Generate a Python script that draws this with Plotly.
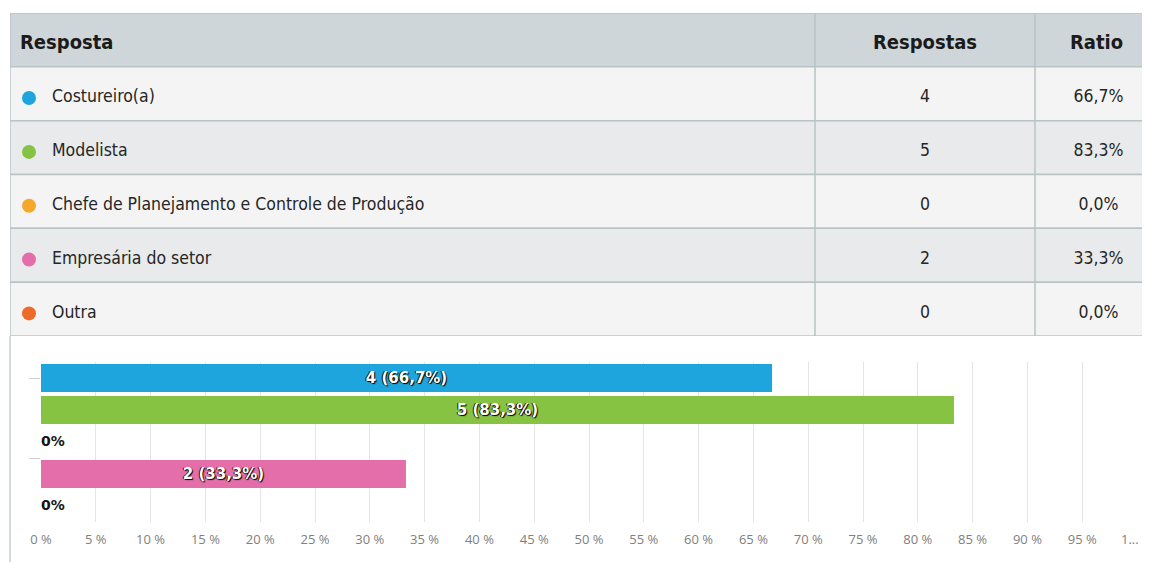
import plotly.graph_objects as go

# ── data ──────────────────────────────────────────────────────────────────────
categories = [
    "Costureiro(a)",
    "Modelista",
    "Chefe de Planejamento e Controle de Produção",
    "Empresária do setor",
    "Outra",
]
respostas = [4, 5, 0, 2, 0]
ratio_pct = [66.7, 83.3, 0.0, 33.3, 0.0]
colors = ["#1fa5de", "#86c343", "#f6a82a", "#e46eaa", "#ee6a2b"]
headers = ["Resposta", "Respostas", "Ratio"]
tick_vals = list(range(0, 101, 5))
tick_text = [f"{v} %" for v in tick_vals[:-1]] + [""]
last_tick = "1..."   # the 100 % label is truncated in the original

W, H = 1150, 562
FONT_TABLE = "DejaVu Sans Condensed"

# table drawn on its own pixel-like axes (x2/y2): column edges and row index
COL_EDGES = [0, 805, 1025, 1148]
COL_MID = [(a + b) / 2 for a, b in zip(COL_EDGES[:-1], COL_EDGES[1:])]
HEADER_FILL = "#cfd6d9"
ROW_FILLS = ["#f4f4f4", "#e8eaeb"]
BORDER = "#b9c3c6"
TEXT_DY = 0.08   # text sits a touch below the row middle
TICK_FONT = dict(family="Open Sans", size=13, color="#808080")


def pct_br(v):
    return f"{v:.1f}".replace(".", ",") + "%"


rows = [r + TEXT_DY for r in range(1, len(categories) + 1)]   # header is row 0
head_y = TEXT_DY

table_traces = [
    # header labels
    go.Scatter(
        x=[10], y=[head_y], mode="text", text=[f"<b>{headers[0]}</b>"],
        textposition="middle right",
        textfont=dict(family=FONT_TABLE, size=20, color="#1b1b1b"),
        xaxis="x2", yaxis="y2", hoverinfo="skip", showlegend=False,
    ),
    go.Scatter(
        x=COL_MID[1:], y=[head_y, head_y], mode="text",
        text=[f"<b>{h}</b>" for h in headers[1:]],
        textposition="middle center",
        textfont=dict(family=FONT_TABLE, size=20, color="#1b1b1b"),
        xaxis="x2", yaxis="y2", hoverinfo="skip", showlegend=False,
    ),
    # coloured bullets
    go.Scatter(
        x=[19] * len(categories), y=rows, mode="markers",
        marker=dict(color=colors, size=14, line=dict(width=0)),
        xaxis="x2", yaxis="y2", hoverinfo="skip", showlegend=False,
    ),
    # answer names
    go.Scatter(
        x=[42] * len(categories), y=rows, mode="text", text=categories,
        textposition="middle right",
        textfont=dict(family=FONT_TABLE, size=17.5, color="#262626"),
        xaxis="x2", yaxis="y2", hoverinfo="skip", showlegend=False,
    ),
    # counts
    go.Scatter(
        x=[COL_MID[1]] * len(categories), y=rows, mode="text",
        text=[str(v) for v in respostas], textposition="middle center",
        textfont=dict(family=FONT_TABLE, size=17.5, color="#262626"),
        xaxis="x2", yaxis="y2", hoverinfo="skip", showlegend=False,
    ),
    # ratios
    go.Scatter(
        x=[COL_MID[2] + 2] * len(categories), y=rows, mode="text",
        text=[pct_br(v) for v in ratio_pct], textposition="middle center",
        textfont=dict(family=FONT_TABLE, size=17.5, color="#262626"),
        xaxis="x2", yaxis="y2", hoverinfo="skip", showlegend=False,
    ),
]

table_shapes = []
for r in range(len(categories) + 1):
    fill = HEADER_FILL if r == 0 else ROW_FILLS[(r - 1) % 2]
    table_shapes.append(dict(
        type="rect", xref="x2", yref="y2", layer="below",
        x0=COL_EDGES[0], x1=COL_EDGES[-1] + 10, y0=r - 0.5, y1=r + 0.5,
        fillcolor=fill, line=dict(color=BORDER, width=1.5),
    ))
for xe in COL_EDGES[1:3]:
    table_shapes.append(dict(
        type="line", xref="x2", yref="y2", layer="below",
        x0=xe, x1=xe, y0=-0.5, y1=len(categories) + 0.5,
        line=dict(color=BORDER, width=1.5),
    ))

# ── bar chart ─────────────────────────────────────────────────────────────────
bar_labels = [f"{r} ({pct_br(p)})" for r, p in zip(respostas, ratio_pct)]

bars = go.Bar(
    x=ratio_pct,
    y=categories,
    orientation="h",
    marker=dict(color=colors, line=dict(width=0)),
    width=0.875,
    text=bar_labels,
    textposition="inside",
    insidetextanchor="middle",
    textangle=0,
    insidetextfont=dict(family="DejaVu Sans", size=15, color="white",
                        weight="bold", shadow="1px 1px 1px #000, -1px 0px 0px #111"),
    hoverinfo="skip",
    showlegend=False,
)

# zero answers get a plain "0%" next to the axis
zero_y = [c for c, r in zip(categories, respostas) if r == 0]
zero_x = [p for p, r in zip(ratio_pct, respostas) if r == 0]
zeros = go.Scatter(
    x=zero_x,
    y=zero_y,
    mode="text",
    text=["0%"] * len(zero_y),
    textposition="middle right",
    textfont=dict(family="DejaVu Sans", size=14, color="#151515", weight="bold"),
    cliponaxis=False,
    hoverinfo="skip",
    showlegend=False,
)

fig = go.Figure(table_traces + [bars, zeros])

PLOT_BOTTOM = (H - 514) / H

fig.update_layout(
    width=W,
    height=H,
    margin=dict(l=0, r=0, t=0, b=0),
    paper_bgcolor="white",
    plot_bgcolor="white",
    xaxis=dict(
        domain=[33 / W, 1129 / W],
        range=[0, 100],
        tickvals=tick_vals,
        ticktext=tick_text,
        showgrid=True,
        gridcolor="#e4e4e4",
        gridwidth=1,
        zeroline=False,
        showline=False,
        ticks="",
        tickfont=TICK_FONT,
        ticklabelstandoff=8,
        automargin=False,
        fixedrange=True,
    ),
    yaxis=dict(
        domain=[PLOT_BOTTOM, (H - 354) / H],
        autorange="reversed",
        tickmode="array",
        tickvals=[0, 2.5],
        ticktext=["", ""],
        ticks="outside",
        ticklen=11,
        tickcolor="#cfcfcf",
        tickwidth=1,
        showticklabels=False,
        showgrid=False,
        zeroline=False,
        automargin=False,
        fixedrange=True,
    ),
    xaxis2=dict(
        domain=[2 / W, 1.0], range=[COL_EDGES[0], COL_EDGES[-1]],
        visible=False, fixedrange=True, anchor="y2",
    ),
    yaxis2=dict(
        domain=[(H - 328) / H, (H - 5) / H], range=[len(categories) + 0.5, -0.5],
        visible=False, fixedrange=True, anchor="x2",
    ),
    annotations=[
        dict(x=tick_vals[-1], xref="x", y=PLOT_BOTTOM, yref="paper",
             text=last_tick, showarrow=False, xanchor="center", yanchor="top",
             xshift=-7, yshift=-6, font=TICK_FONT),
    ],
    shapes=table_shapes + [
        # left border of the panel, running below the table
        dict(type="line", xref="paper", yref="paper",
             x0=2 / W, x1=2 / W, y0=0, y1=(H - 328) / H,
             line=dict(color="#c7ced1", width=1.5)),
    ],
)

fig.write_html("out.html")
